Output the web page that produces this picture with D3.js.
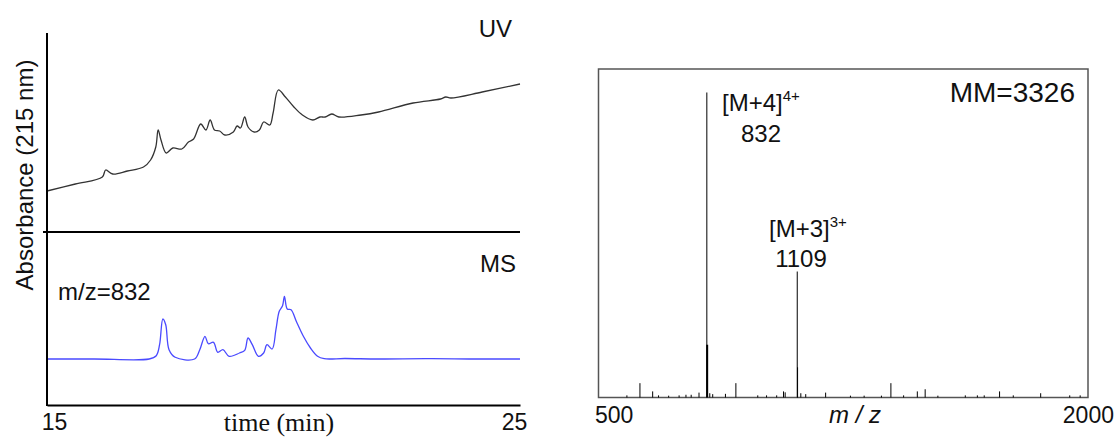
<!DOCTYPE html>
<html>
<head>
<meta charset="utf-8">
<script src="https://cdn.jsdelivr.net/npm/d3@7"></script>
<style>
  body { margin: 0; background: #fff; }
  text { font-family: "Liberation Sans", Arial, sans-serif; fill: #111; }
</style>
</head>
<body>
<div id="chart"></div>
<script>
// UV trace (time in min, absorbance arbitrary units)
var uvTime = [15, 15.6, 16.17, 16.24, 16.39, 16.7, 17.04, 17.19, 17.3, 17.35, 17.41, 17.52, 17.66, 17.85, 17.99, 18.1, 18.25, 18.36, 18.45, 18.54, 18.65, 18.76, 18.94, 19.02, 19.09, 19.18, 19.25, 19.38, 19.49, 19.58, 19.71, 19.78, 19.89, 20.04, 20.22, 20.4, 20.62, 20.77, 20.88, 21.02, 21.17, 21.64, 22.01, 22.74, 23.32, 23.43, 23.54, 24.2, 25];
var uvAbs  = [41, 48, 55, 62, 58, 61, 65, 72, 85, 102, 92, 79, 84, 83, 90, 93, 108, 102, 112, 102, 101, 97, 100, 106, 104, 115, 105, 100, 102, 110, 107, 119, 142, 135, 125, 117, 112, 115, 115, 118, 115, 117, 120, 129, 133, 135, 134, 140, 148];

// MS extracted ion chromatogram m/z=832
var msTime = [15, 16, 17.16, 17.31, 17.38, 17.45, 17.51, 17.58, 17.71, 18.12, 18.23, 18.34, 18.41, 18.52, 18.61, 18.72, 18.85, 19.07, 19.18, 19.25, 19.34, 19.47, 19.58, 19.65, 19.76, 19.84, 19.91, 19.98, 20.02, 20.08, 20.16, 20.27, 20.42, 20.57, 20.72, 20.86, 21.3, 22, 23, 24, 25];
var msInt  = [0, 0, 0, 3.3, 14.3, 40, 34.3, 9.3, 1.7, 0, 9.3, 22.7, 15.3, 16.7, 6.7, 9.3, 2.7, 6, 8.7, 21, 14.3, 2.7, 6, 14.3, 10, 29.3, 47.7, 53.3, 62.7, 50, 49.3, 37.7, 22.7, 11, 2.7, 0.3, 0.5, 0, 0.3, 0, 0];

// mass spectrum sticks (m/z, relative intensity %)
var specMz  = [587, 627, 666, 684, 715, 747, 768, 784, 808, 832, 833, 841, 850, 889, 921, 988, 1015, 1046, 1067, 1072, 1109, 1110, 1120, 1135, 1196, 1272, 1314, 1367, 1396, 1435, 1477, 1501, 1540, 1624, 1661, 1682, 1729, 1771, 1855, 1944, 1976];
var specInt = [0.7, 4.7, 2, 0.7, 0.6, 0.7, 0.9, 0.9, 1.6, 100, 17.3, 1.4, 1.1, 1.2, 4.7, 0.7, 0.7, 0.7, 2, 1.7, 41.3, 9.9, 1.4, 1.1, 1.6, 0.6, 0.6, 0.6, 4.7, 0.7, 2, 2.7, 0.6, 0.7, 0.7, 0.7, 2, 0.7, 1.4, 0.7, 0.7];

var xTicksLeft = [15, 25];
var xTicksRight = [500, 2000];

var svg = d3.select("#chart").append("svg")
    .attr("width", 1117)
    .attr("height", 438);

// ---- left: chromatograms
var x = d3.scaleLinear().domain([15, 25]).range([47, 520]);
var yUV = d3.scaleLinear().domain([0, 200]).range([232, 32]);
var yMS = d3.scaleLinear().domain([-46, 127]).range([405, 232]);

var uvData = uvTime.map(function(t, i){ return [t, uvAbs[i]]; });
var msData = msTime.map(function(t, i){ return [t, msInt[i]]; });

svg.append("path")
    .datum(uvData)
    .attr("fill", "none")
    .attr("stroke", "#333")
    .attr("stroke-width", 1.3)
    .attr("d", d3.line().curve(d3.curveCatmullRom)
        .x(function(d){ return x(d[0]); })
        .y(function(d){ return yUV(d[1]); }));

svg.append("path")
    .datum(msData)
    .attr("fill", "none")
    .attr("stroke", "#4a4aff")
    .attr("stroke-width", 1.3)
    .attr("d", d3.line().curve(d3.curveCatmullRom)
        .x(function(d){ return x(d[0]); })
        .y(function(d){ return yMS(d[1]); }));

// frame lines
svg.append("line").attr("x1", x(15)).attr("x2", x(15)).attr("y1", 33).attr("y2", 406)
    .attr("stroke", "#000").attr("stroke-width", 2);
svg.append("line").attr("x1", 43).attr("x2", x(25)).attr("y1", 232).attr("y2", 232)
    .attr("stroke", "#000").attr("stroke-width", 2);

var xAxis = svg.append("g")
    .attr("transform", "translate(0,405)")
    .call(d3.axisBottom(x).tickValues(xTicksLeft).tickSize(0).tickPadding(9).tickFormat(d3.format("d")));
xAxis.select(".domain").attr("stroke", "#000").attr("stroke-width", 2);
xAxis.selectAll("text")
    .style("font-size", "23px")
    .style("font-family", "Liberation Sans, Arial, sans-serif")
    .attr("fill", "#111")
    .attr("dx", function(d){ return d === 15 ? 7 : -6; });

svg.append("text")
    .attr("transform", "translate(33,175) rotate(-90)")
    .attr("text-anchor", "middle")
    .style("font-size", "24px")
    .text("Absorbance (215 nm)");

svg.append("text")
    .attr("x", 279).attr("y", 431)
    .attr("text-anchor", "middle")
    .style("font-family", "Liberation Serif, Times New Roman, serif")
    .style("font-size", "26px")
    .text("time (min)");

svg.append("text").attr("x", 512).attr("y", 37).attr("text-anchor", "end")
    .style("font-size", "24px").text("UV");
svg.append("text").attr("x", 516).attr("y", 272).attr("text-anchor", "end")
    .style("font-size", "24px").text("MS");
svg.append("text").attr("x", 58).attr("y", 300)
    .style("font-size", "24px").text("m/z=832");

// ---- right: mass spectrum
var xs = d3.scaleLinear().domain([500, 2000]).range([598.5, 1088]);
var ys = d3.scaleLinear().domain([0, 107.7]).range([397.5, 69]);

svg.append("rect")
    .attr("x", xs(500)).attr("y", ys(107.7))
    .attr("width", xs(2000) - xs(500)).attr("height", ys(0) - ys(107.7))
    .attr("fill", "none").attr("stroke", "#555").attr("stroke-width", 1.5);

svg.selectAll(".stick")
    .data(specMz)
    .enter().append("line")
    .attr("class", "stick")
    .attr("x1", function(d){ return xs(d); })
    .attr("x2", function(d){ return xs(d); })
    .attr("y1", ys(0))
    .attr("y2", function(d, i){ return ys(specInt[i]); })
    .attr("stroke", "#000")
    .attr("stroke-width", function(d, i){ return specInt[i] > 15 && specInt[i] < 30 ? 2 : 1; });

svg.append("text").attr("x", 595).attr("y", 423)
    .style("font-size", "23px").text(xTicksRight[0]);
svg.append("text").attr("x", 1114).attr("y", 423).attr("text-anchor", "end")
    .style("font-size", "23px").text(xTicksRight[1]);
svg.append("text").attr("x", 855).attr("y", 423).attr("text-anchor", "middle")
    .style("font-size", "24px").style("font-style", "italic").text("m / z");

svg.append("text").attr("x", 1075).attr("y", 102).attr("text-anchor", "end")
    .style("font-size", "28px").text("MM=3326");

var lab4 = svg.append("text").attr("x", 722).attr("y", 111).style("font-size", "24px");
lab4.append("tspan").text("[M+4]");
lab4.append("tspan").attr("dy", -10).style("font-size", "15px").text("4+");
svg.append("text").attr("x", 761).attr("y", 142).attr("text-anchor", "middle")
    .style("font-size", "24px").text("832");

var lab3 = svg.append("text").attr("x", 769).attr("y", 237).style("font-size", "24px");
lab3.append("tspan").text("[M+3]");
lab3.append("tspan").attr("dy", -10).style("font-size", "15px").text("3+");
svg.append("text").attr("x", 801).attr("y", 267).attr("text-anchor", "middle")
    .style("font-size", "24px").text("1109");
</script>
</body>
</html>
